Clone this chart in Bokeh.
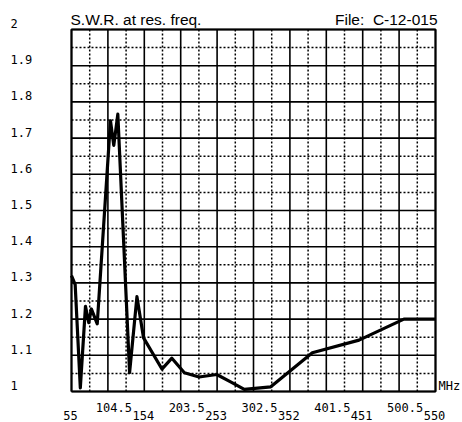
from bokeh.plotting import figure
from bokeh.models import Range1d
from bokeh.core.properties import value
from bokeh.embed import file_html
from bokeh.resources import INLINE

# ---- data ----
freq = [55, 60, 67, 74, 78.5, 82, 90, 108, 112.5, 118, 134, 144, 153, 178, 191.5,
        208.5, 228.5, 252.5, 272, 290, 326, 382.5, 446, 507, 550]
swr = [1.32, 1.295, 1.01, 1.235, 1.19, 1.228, 1.187, 1.748, 1.68, 1.766, 1.052, 1.262,
       1.148, 1.062, 1.092, 1.052, 1.04, 1.047, 1.026, 1.006, 1.013, 1.107, 1.142, 1.2, 1.2]

x_major = [55, 104.5, 154, 203.5, 253, 302.5, 352, 401.5, 451, 500.5, 550]
x_minor = [79.75, 129.25, 178.75, 228.25, 277.75, 327.25, 376.75, 426.25, 475.75, 525.25]
x_labels_low = ["55", "154", "253", "352", "451", "550"]
x_labels_high = ["104.5", "203.5", "302.5", "401.5", "500.5"]
y_major = [1.0, 1.1, 1.2, 1.3, 1.4, 1.5, 1.6, 1.7, 1.8, 1.9, 2.0]
y_minor = [1.05, 1.15, 1.25, 1.35, 1.45, 1.55, 1.65, 1.75, 1.85, 1.95]
y_labels = ["1", "1.1", "1.2", "1.3", "1.4", "1.5", "1.6", "1.7", "1.8", "1.9", "2"]
title_left = "S.W.R. at res. freq."
title_right = "File:\u00a0 C-12-015"
unit_label = "MHz"

X0, X1 = 55, 550
Y0, Y1 = 1.0, 2.0

W, H = 462, 422
# plot-area placement in pixels
L, R, T, B = 71, 435, 29, 391
PXX = (X1 - X0) / (R - L)     # data units per pixel (x)
PXY = (Y1 - Y0) / (B - T)     # data units per pixel (y)

MONO = "DejaVu Sans Mono"
SANS = "Liberation Sans"
LAB_SIZE = "12px"

p = figure(width=W, height=H, output_backend="svg", toolbar_location=None,
           x_range=Range1d(X0 - L * PXX, X0 + (W - L) * PXX),
           y_range=Range1d(Y0 - (H - B) * PXY, Y0 + B * PXY),
           min_border=0, min_border_left=0, min_border_right=0,
           min_border_top=0, min_border_bottom=0)
p.xaxis.visible = False
p.yaxis.visible = False
p.grid.visible = False
p.outline_line_color = None
p.background_fill_color = "white"
p.border_fill_color = "white"

# minor (dotted) grid
p.segment(x0=x_minor, x1=x_minor, y0=[Y0] * len(x_minor), y1=[Y1] * len(x_minor),
          line_color="black", line_width=1.5, line_dash="2 2")
p.segment(x0=[X0] * len(y_minor), x1=[X1] * len(y_minor), y0=y_minor, y1=y_minor,
          line_color="black", line_width=1.5, line_dash="2 2")
# major (solid) grid incl. border
p.segment(x0=x_major, x1=x_major, y0=[Y0] * len(x_major), y1=[Y1] * len(x_major),
          line_color="black", line_width=1.6)
p.segment(x0=[X0] * len(y_major), x1=[X1] * len(y_major), y0=y_major, y1=y_major,
          line_color="black", line_width=1.6)
p.line(x=[X0, X1, X1, X0, X0], y=[Y0, Y0, Y1, Y1, Y0], line_color="black", line_width=2)

# data curve
p.line(freq, swr, line_color="black", line_width=3.2, line_join="round")

# x tick labels (two staggered rows)
low_vals = x_major[0::2]
high_vals = x_major[1::2]
p.text(x=[v - 1 * PXX for v in low_vals], y=[Y0 - 24 * PXY] * len(low_vals), text=x_labels_low,
       text_align="center", text_baseline="middle", text_font=value(MONO),
       text_font_size=LAB_SIZE, text_color="black")
p.text(x=[v + 6 * PXX for v in high_vals], y=[Y0 - 16 * PXY] * len(high_vals), text=x_labels_high,
       text_align="center", text_baseline="middle", text_font=value(MONO),
       text_font_size=LAB_SIZE, text_color="black")

# y tick labels (placed just above each line)
p.text(x=[X0 - 61 * PXX] * len(y_major), y=[v + 6 * PXY for v in y_major], text=y_labels,
       text_align="left", text_baseline="middle", text_font=value(MONO),
       text_font_size=LAB_SIZE, text_color="black")

# titles
p.text(x=[X0 - 1 * PXX], y=[Y1 + 10 * PXY], text=[title_left], text_align="left",
       text_baseline="middle", text_font=value(SANS), text_font_size="15.5px", text_color="black")
p.text(x=[X1 + 2 * PXX], y=[Y1 + 10 * PXY], text=[title_right], text_align="right",
       text_baseline="middle", text_font=value(SANS), text_font_size="15.5px", text_color="black")
p.text(x=[X1 + 3 * PXX], y=[Y0 + 6 * PXY], text=[unit_label], text_align="left",
       text_baseline="middle", text_font=value(MONO), text_font_size=LAB_SIZE, text_color="black")

open("out.html", "w").write(file_html(p, INLINE))
